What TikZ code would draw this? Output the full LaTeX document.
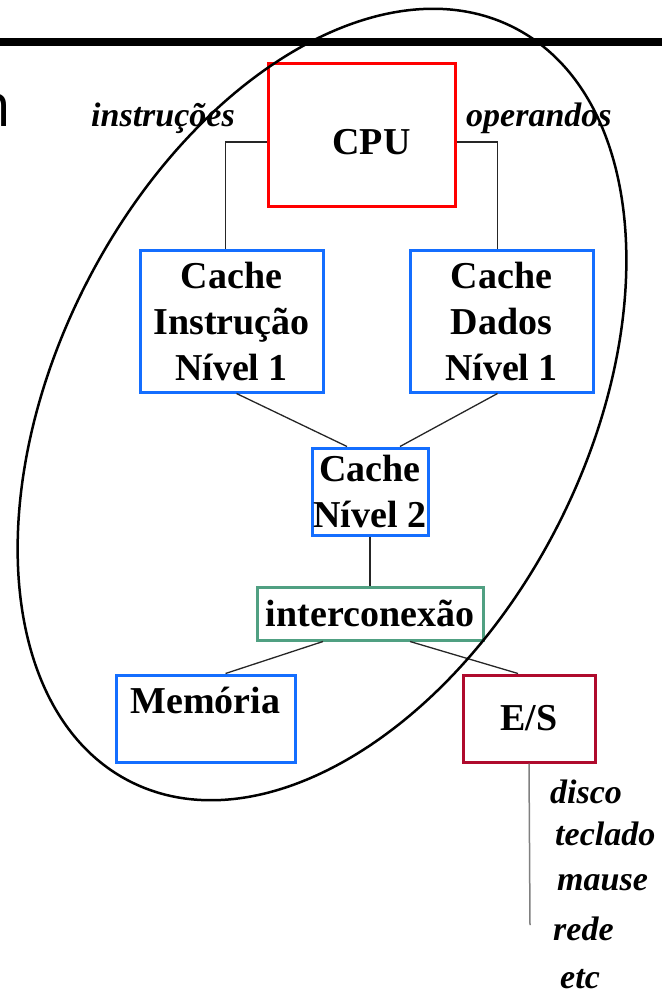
\documentclass[tikz,border=0pt]{standalone}
\usepackage{fontspec}
\setmainfont{Liberation Serif}
\newfontfamily\slidefont{Open Sans}
\usepackage{tikz}

\definecolor{cpured}{RGB}{255,0,0}
\definecolor{cacheblue}{RGB}{20,110,255}
\definecolor{busgreen}{RGB}{80,160,130}
\definecolor{iored}{RGB}{175,10,45}

\begin{document}
\begin{tikzpicture}[x=1pt,y=-1pt]
	\useasboundingbox (0,0) rectangle (662,995);
	\draw[line width=8pt] (0,42) -- (662,42);
	\node[anchor=base east,inner sep=0pt,font=\slidefont\fontsize{60}{60}\selectfont] (titulo) at (12,127) {n};

	\begin{scope}[every node/.style={draw,line width=3pt,inner sep=0pt,align=center,font=\bfseries\fontsize{38}{46}\selectfont}]
		\node[draw=cpured,minimum width=187pt,text height=91pt,text depth=51pt] (cpu) at (361.5,135) {\hspace*{20pt}CPU};
		\node[draw=cacheblue,minimum width=183pt,minimum height=142pt] (ci) at (231.5,321) {Cache\\Instrução\\Nível 1};
		\node[draw=cacheblue,minimum width=183pt,minimum height=142pt] (cd) at (501.5,321) {Cache\\Dados\\Nível 1};
		\node[draw=cacheblue,minimum width=116pt,minimum height=87pt] (l2) at (370,491.5) {Cache\\Nível 2};
		\node[draw=busgreen,minimum width=226pt,minimum height=53pt] (ic) at (370,613.5) {interconexão};
		\node[draw=cacheblue,minimum width=179pt,text height=38pt,text depth=49pt] (mem) at (205.5,718.5) {Memória};
		\node[draw=iored,minimum width=132pt,minimum height=87pt] (es) at (529,718.5) {E/S};
	\end{scope}

	\begin{scope}[every node/.style={inner sep=0pt,anchor=base west,font=\bfseries\itshape\fontsize{34}{40}\selectfont}]
		\node (instr) at (91,127) {instruções};
		\node (oper) at (466,127) {operandos};
		\node (disco) at (550,803) {disco};
		\node (teclado) at (555,845) {teclado};
		\node (mause) at (557,890) {mause};
		\node (rede) at (553,940) {rede};
		\node (etc) at (560,988) {etc};
	\end{scope}

	\begin{scope}[every edge/.style={draw=black!85,line width=1.3pt}]
		\path ([yshift=-7pt]cpu.west) edge[to path={-| (\tikztotarget)}] ([xshift=-6pt]ci.north);
		\path ([yshift=-7pt]cpu.east) edge[to path={-| (\tikztotarget)}] ([xshift=-4pt]cd.north);
		\path ([xshift=5pt]ci.south) edge ([xshift=-23pt]l2.north);
		\path ([xshift=-4pt]cd.south) edge ([xshift=30pt]l2.north);
		\path (l2.south) edge (ic.north);
		\path ([xshift=-47pt]ic.south) edge ([xshift=20pt]mem.north);
		\path ([xshift=40pt]ic.south) edge ([xshift=-11pt]es.north);
	\end{scope}

	\coordinate (es fim) at (530,925);
	\draw[gray,line width=1.5pt] (es.south) -- (es fim);

	\draw[line width=2.5pt,rotate around={63:(322,404.5)}] (322,404.5) ellipse [x radius=423,y radius=265];
\end{tikzpicture}
\end{document}
